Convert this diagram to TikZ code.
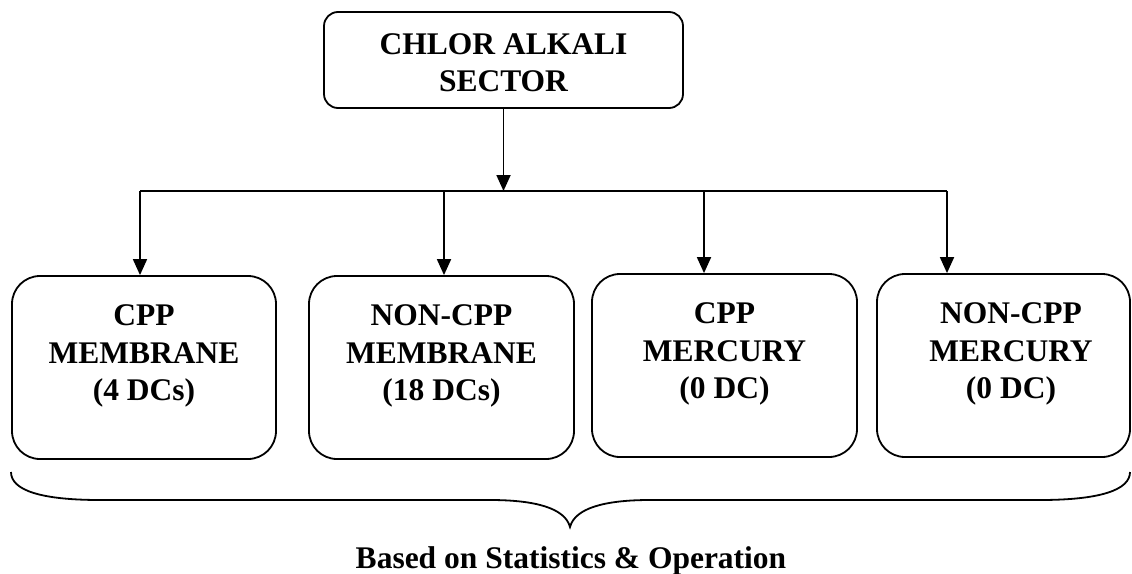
\documentclass[tikz,border=0pt]{standalone}
\usepackage{fontspec}
\setmainfont{Liberation Serif}
\usetikzlibrary{arrows.meta}
\begin{document}
\begin{tikzpicture}[x=1pt,y=-1pt,
  label text/.style={font=\fontsize{31.5}{37.5}\selectfont\bfseries, align=center, inner sep=0pt},
  topbox/.style={draw, line width=1.8pt, rounded corners=14pt, minimum width=359pt, minimum height=96pt, inner sep=0pt},
  catbox/.style={draw, line width=1.8pt, rounded corners=28pt, minimum height=183pt, inner sep=0pt},
  link/.style={line width=1.8pt},
  arr/.style={link, -{Triangle[width=14pt,length=16pt]}}]
\useasboundingbox (0,0) rectangle (1132,573);

% top-level sector box
\node[topbox] (sector) at (503.5,60) {};
\node[label text] (sectortxt) at (503.5,62.5) {CHLOR ALKALI\\SECTOR};

% four category boxes
\node[catbox, minimum width=264pt] (cpm) at (144,367.5) {};
\node[catbox, minimum width=265pt] (npm) at (441.5,367.5) {};
\node[catbox, minimum width=265pt] (cph) at (724.5,365.5) {};
\node[catbox, minimum width=253pt] (nph) at (1003.5,365.5) {};

\node[label text] (cpmtxt) at (144,356) {CPP\\MEMBRANE\\(4 DCs)};
\node[label text] (npmtxt) at (441.5,356) {NON-CPP\\MEMBRANE\\(18 DCs)};
\node[label text] (cphtxt) at (724.5,354) {CPP\\MERCURY\\(0 DC)};
\node[label text] (nphtxt) at (1011,354) {NON-CPP\\MERCURY\\(0 DC)};

% distribution bus
\coordinate (j1) at (140,191);
\coordinate (j2) at (444,191);
\coordinate (j3) at (704,191);
\coordinate (j4) at (947,191);
\draw[link] (j1) -- (j4);

\draw[arr] (sector.south) -- (sector.south |- j1);
\draw[arr] (j1) -- (j1 |- cpm.north);
\draw[arr] (j2) -- (j2 |- npm.north);
\draw[arr] (j3) -- (j3 |- cph.north);
\draw[arr] (j4) -- (j4 |- nph.north);

% grouping brace under the boxes
\coordinate (bl) at (11,472);
\coordinate (br) at (1130,472);
\coordinate (tip) at (570,527);
\draw[link] (bl) .. controls (11,490) and (40,500) .. (100,500)
  -- (490,500) .. controls (535,500) and (565,508) .. (tip)
  .. controls (575,508) and (605,500) .. (650,500)
  -- (1040,500) .. controls (1100,500) and (1130,490) .. (br);

\node[label text, anchor=base] (basis) at (571,568) {Based on Statistics \& Operation};
\end{tikzpicture}
\end{document}
